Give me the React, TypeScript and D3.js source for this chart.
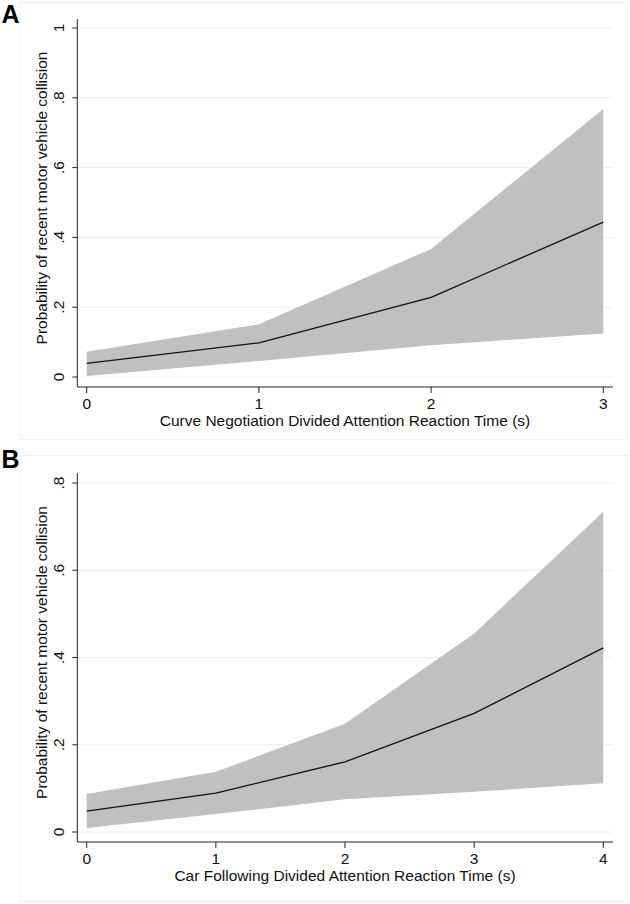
import React from "react";
import * as d3 from "d3";

const xA = [0, 1, 2, 3];
const meanA = [0.039, 0.098, 0.228, 0.444];
const lowA = [0.003, 0.046, 0.091, 0.125];
const highA = [0.072, 0.151, 0.367, 0.768];
const yTicksA = [0, 0.2, 0.4, 0.6, 0.8, 1];
const yTickLabelsA = ["0", ".2", ".4", ".6", ".8", "1"];

const xB = [0, 1, 2, 3, 4];
const meanB = [0.048, 0.089, 0.161, 0.272, 0.422];
const lowB = [0.009, 0.041, 0.075, 0.092, 0.112];
const highB = [0.087, 0.138, 0.248, 0.455, 0.734];
const yTicksB = [0, 0.2, 0.4, 0.6, 0.8];
const yTickLabelsB = ["0", ".2", ".4", ".6", ".8"];

const yTitle = "Probability of recent motor vehicle collision";
const xTitleA = "Curve Negotiation Divided Attention Reaction Time (s)";
const xTitleB = "Car Following Divided Attention Reaction Time (s)";

const FONT = "'Liberation Sans', Arial, Helvetica, sans-serif";
const FS = 15.5;

type PanelProps = {
  letter: string;
  xs: number[];
  mean: number[];
  low: number[];
  high: number[];
  yTicks: number[];
  yLabels: string[];
  xTitle: string;
  yMax: number;
  top: number;
  zero: number;
  axisTop: number;
  letterY: number;
};

function Panel(p: PanelProps) {
  const x = d3.scaleLinear().domain([0, p.xs[p.xs.length - 1]]).range([86.7, 603.3]);
  const y = d3.scaleLinear().domain([0, p.yMax]).range([p.zero, p.top]);
  const axisY = p.zero + 10;
  const axisX = 77.3;
  const rightX = 613;
  const pts = p.xs.map((v, i) => ({ x: v, m: p.mean[i], lo: p.low[i], hi: p.high[i] }));
  const area = d3
    .area<any>()
    .x((d) => x(d.x))
    .y0((d) => y(d.lo))
    .y1((d) => y(d.hi));
  const line = d3
    .line<any>()
    .x((d) => x(d.x))
    .y((d) => y(d.m));
  const yMid = (p.zero + p.axisTop) / 2;
  return (
    <g>
      {p.yTicks.map((t) => (
        <line key={"g" + t} x1={axisX} x2={rightX} y1={y(t)} y2={y(t)} stroke="#e9f0f1" strokeWidth={1} />
      ))}
      <path d={area(pts) || ""} fill="#c0c0c0" />
      <path d={line(pts) || ""} fill="none" stroke="#111" strokeWidth={1.3} />
      <line x1={axisX} x2={axisX} y1={p.axisTop} y2={axisY} stroke="#222" strokeWidth={1} />
      <line x1={axisX} x2={rightX} y1={axisY} y2={axisY} stroke="#222" strokeWidth={1} />
      {p.yTicks.map((t, i) => (
        <g key={"t" + t}>
          <line x1={axisX - 5} x2={axisX} y1={y(t)} y2={y(t)} stroke="#222" strokeWidth={1} />
          <text
            transform={`translate(${axisX - 13},${y(t)}) rotate(-90)`}
            textAnchor="middle"
            fontFamily={FONT}
            fontSize={FS}
            fill="#111"
          >
            {p.yLabels[i]}
          </text>
        </g>
      ))}
      {p.xs.map((v) => (
        <g key={"x" + v}>
          <line x1={x(v)} x2={x(v)} y1={axisY} y2={axisY + 6} stroke="#222" strokeWidth={1} />
          <text x={x(v)} y={axisY + 22} textAnchor="middle" fontFamily={FONT} fontSize={FS} fill="#111">
            {String(v)}
          </text>
        </g>
      ))}
      <text x={345} y={axisY + 39} textAnchor="middle" fontFamily={FONT} fontSize={FS} fill="#111">
        {p.xTitle}
      </text>
      <text
        transform={`translate(47,${yMid}) rotate(-90)`}
        textAnchor="middle"
        fontFamily={FONT}
        fontSize={FS}
        fill="#111"
      >
        {yTitle}
      </text>
      <text x={1.5} y={p.letterY} fontFamily={FONT} fontSize={25} fontWeight="bold" fill="#000">
        {p.letter}
      </text>
    </g>
  );
}

export default function App() {
  return (
    <svg
      width={630}
      height={904}
      style={{ position: "absolute", left: 0, top: 0, background: "#fff" }}
    >
      <rect x={0} y={0} width={630} height={904} fill="#fff" />
      <rect x={20} y={2.5} width={607} height={437} fill="none" stroke="#f0f3f4" strokeWidth={1} />
      <rect x={20} y={455.5} width={607} height={446} fill="none" stroke="#f0f3f4" strokeWidth={1} />
      <Panel
        letter="A"
        xs={xA}
        mean={meanA}
        low={lowA}
        high={highA}
        yTicks={yTicksA}
        yLabels={yTickLabelsA}
        xTitle={xTitleA}
        yMax={1}
        top={28}
        zero={377}
        axisTop={19}
        letterY={23}
      />
      <Panel
        letter="B"
        xs={xB}
        mean={meanB}
        low={lowB}
        high={highB}
        yTicks={yTicksB}
        yLabels={yTickLabelsB}
        xTitle={xTitleB}
        yMax={0.8}
        top={483}
        zero={832}
        axisTop={473}
        letterY={468}
      />
    </svg>
  );
}
